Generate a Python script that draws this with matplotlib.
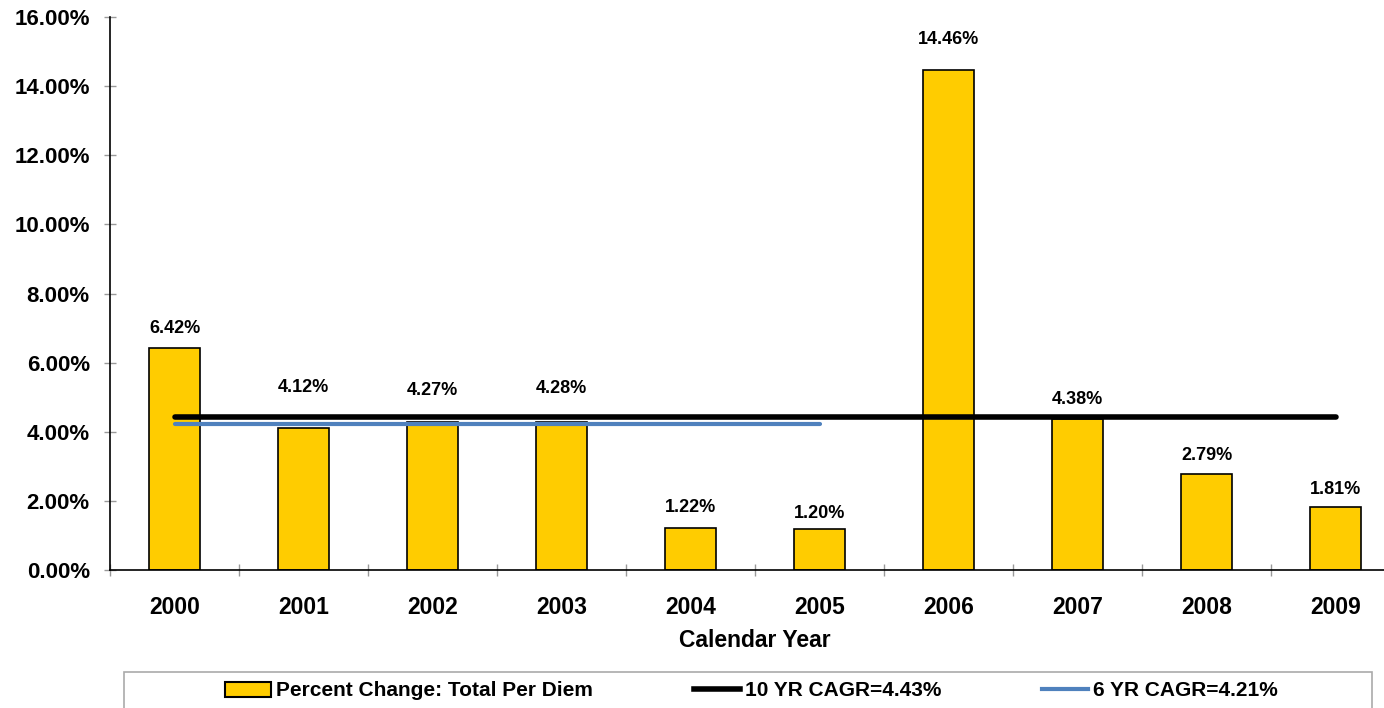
import matplotlib
matplotlib.use("Agg")
import matplotlib.pyplot as plt
from matplotlib.patches import Rectangle
from matplotlib.lines import Line2D
from matplotlib.ticker import FuncFormatter

# ---- data ----
years = ["2000", "2001", "2002", "2003", "2004", "2005", "2006", "2007", "2008", "2009"]
pct_change = [6.42, 4.12, 4.27, 4.28, 1.22, 1.20, 14.46, 4.38, 2.79, 1.81]
cagr_10yr = 4.43
cagr_6yr = 4.21
cagr_6yr_span = ("2000", "2005")
series_names = ["Percent Change: Total Per Diem", "10 YR CAGR=4.43%", "6 YR CAGR=4.21%"]
y_ticks = [0, 2, 4, 6, 8, 10, 12, 14, 16]

# label offsets above bar tops (points), as placed in the original
label_offsets = [14, 29, 23, 24, 15, 11, 22, 14, 13, 13]

plt.rcParams['font.family'] = ['Liberation Sans', 'DejaVu Sans']
plt.rcParams['font.weight'] = 'bold'

W, H = 1384, 708
fig = plt.figure(figsize=(W / 100, H / 100), dpi=100)
ax = fig.add_axes([110 / W, 138 / H, 1290 / W, 553 / H])

x = list(range(len(years)))
bar_color = "#FFCC00"
ax.bar(x, pct_change, width=0.4, color=bar_color, edgecolor="black", linewidth=1.2, zorder=2)

ax.plot([x[0], x[-1]], [cagr_10yr, cagr_10yr], color="black", lw=4, solid_capstyle="round", zorder=3)
i0, i1 = years.index(cagr_6yr_span[0]), years.index(cagr_6yr_span[1])
ax.plot([x[i0], x[i1]], [cagr_6yr, cagr_6yr], color="#4F81BD", lw=3, solid_capstyle="round", zorder=3)

for xi, v, off in zip(x, pct_change, label_offsets):
    ax.annotate(f"{v:.2f}%", (xi, v), xytext=(0, off), textcoords="offset points",
                ha="center", va="center", fontsize=13, fontweight="bold")

ax.set_xlim(-0.5, len(years) - 0.5)
ax.set_ylim(0, 16)
ax.set_yticks(y_ticks)
ax.yaxis.set_major_formatter(FuncFormatter(lambda v, p: f"{v:.2f}%"))
ax.set_xticks(x)
ax.set_xticklabels(years)
ax.set_xticks([i - 0.5 for i in range(len(years) + 1)], minor=True)

ax.tick_params(axis="y", direction="inout", length=9, color="#999999", width=1,
               labelsize=16, pad=10)
ax.tick_params(axis="x", which="major", length=0, labelsize=16.5, pad=19)
ax.tick_params(axis="x", which="minor", direction="inout", length=9, color="#999999", width=1)
for lbl in ax.get_xticklabels() + ax.get_yticklabels():
    lbl.set_fontweight("bold")

for s in ["top", "right"]:
    ax.spines[s].set_visible(False)
ax.spines["left"].set_linewidth(1.2)
ax.spines["bottom"].set_linewidth(1.2)

ax.set_xlabel("Calendar Year", fontsize=16.5, fontweight="bold", labelpad=7)

# legend border box
fig.patches.append(Rectangle((124 / W, -0.01), (1372 - 124) / W, (708 - 672) / H + 0.01,
                             transform=fig.transFigure, fill=False, edgecolor="#AAAAAA", lw=1.2))

handles = [
    Rectangle((0, 0), 1, 1, facecolor=bar_color, edgecolor="black", linewidth=1.5),
    Line2D([0], [0], color="black", lw=4),
    Line2D([0], [0], color="#4F81BD", lw=3),
]
fig.legend(handles, series_names, loc="center", ncol=3, mode="expand",
           bbox_to_anchor=(225 / W, (708 - 706) / H, (1278 - 225) / W, 30 / H),
           frameon=False, borderpad=0, handlelength=2.2, handletextpad=0.25,
           prop={"size": 15, "weight": "bold"}, borderaxespad=0)

fig.savefig("out.png", dpi=100)
